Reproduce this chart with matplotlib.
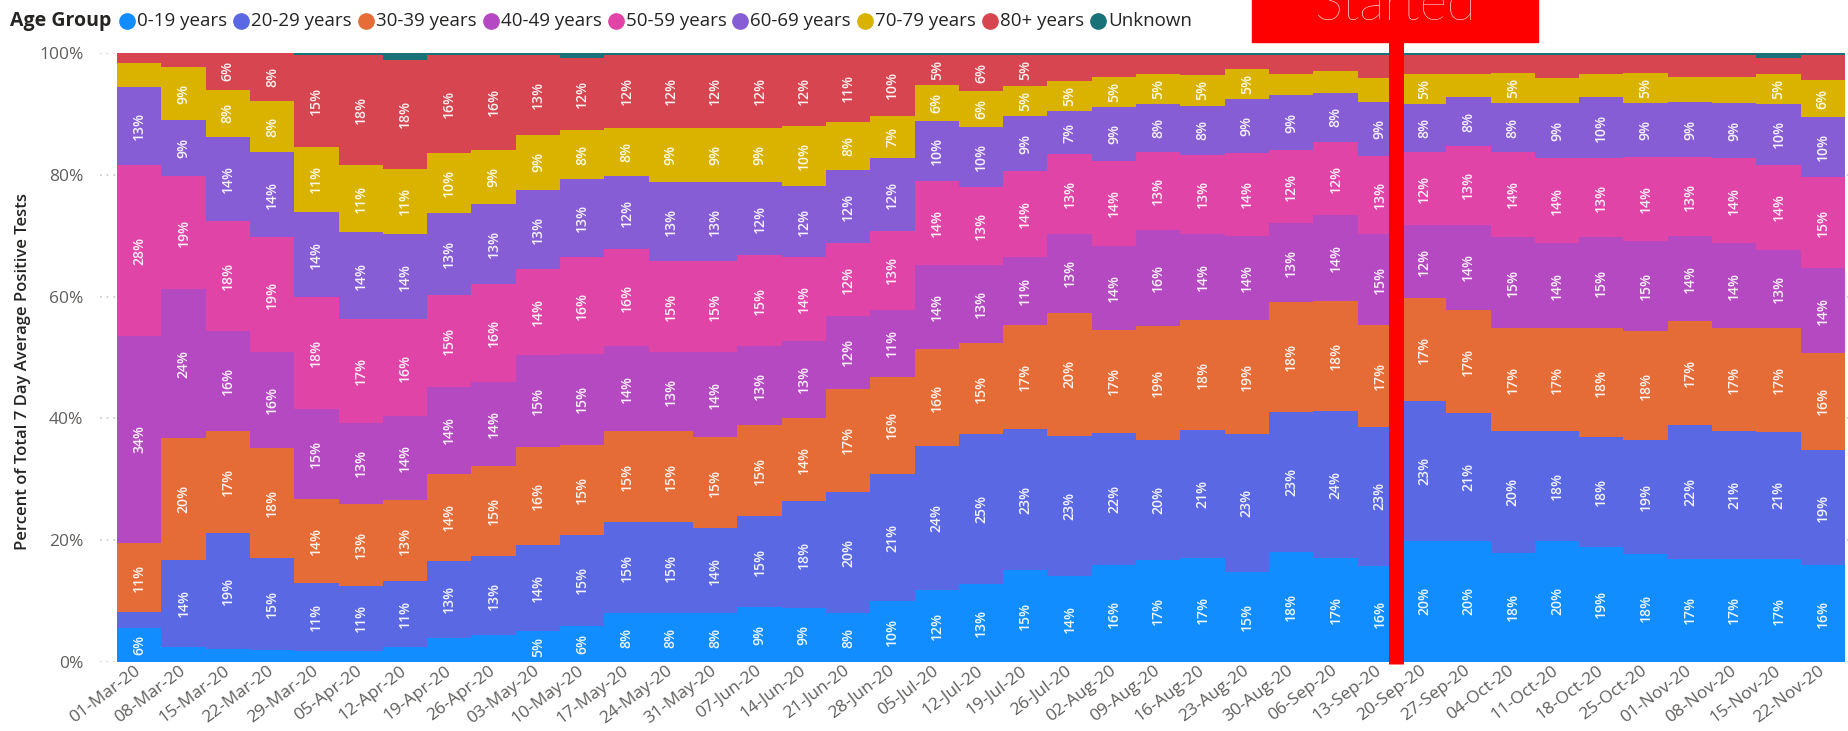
import matplotlib
matplotlib.use('Agg')
import matplotlib.pyplot as plt
from matplotlib.lines import Line2D
from matplotlib.patches import Rectangle
import numpy as np

plt.rcParams['font.family'] = ['Open Sans', 'DejaVu Sans']

weeks = ['01-Mar-20', '08-Mar-20', '15-Mar-20', '22-Mar-20', '29-Mar-20', '05-Apr-20',
         '12-Apr-20', '19-Apr-20', '26-Apr-20', '03-May-20', '10-May-20', '17-May-20',
         '24-May-20', '31-May-20', '07-Jun-20', '14-Jun-20', '21-Jun-20', '28-Jun-20',
         '05-Jul-20', '12-Jul-20', '19-Jul-20', '26-Jul-20', '02-Aug-20', '09-Aug-20',
         '16-Aug-20', '23-Aug-20', '30-Aug-20', '06-Sep-20', '13-Sep-20', '20-Sep-20',
         '27-Sep-20', '04-Oct-20', '11-Oct-20', '18-Oct-20', '25-Oct-20', '01-Nov-20',
         '08-Nov-20', '15-Nov-20', '22-Nov-20']

groups = ['0-19 years', '20-29 years', '30-39 years', '40-49 years', '50-59 years',
          '60-69 years', '70-79 years', '80+ years', 'Unknown']

age_0_19 = [5.6, 2.5, 2.2, 2.0, 1.8, 1.8, 2.5, 3.9, 4.4, 5, 6, 8, 8, 8, 9, 9, 8, 10, 12, 13,
            15, 14, 16, 17, 17, 15, 18, 17, 16, 20, 20, 18, 20, 19, 18, 17, 17, 17, 16]
age_20_29 = [2.6, 14.3, 19, 15.1, 11.2, 10.7, 10.8, 12.7, 13.1, 14, 15, 15, 15, 14, 15, 18, 20, 21, 24, 25,
             23, 23, 22, 20, 21, 23, 23, 24, 23, 23, 21, 20, 18, 18, 19, 22, 21, 21, 19]
age_30_39 = [11.3, 20, 16.8, 18, 13.8, 13.4, 13.3, 14.2, 14.8, 16, 15, 15, 15, 15, 15, 14, 17, 16, 16, 15,
             17, 20, 17, 19, 18, 19, 18, 18, 17, 17, 17, 17, 17, 18, 18, 17, 17, 17, 16]
age_40_49 = [34, 24.4, 16.4, 15.8, 14.7, 13.2, 13.8, 14.3, 13.9, 15, 15, 14, 13, 14, 13, 13, 12, 11, 14, 13,
             11, 13, 14, 16, 14, 14, 13, 14, 15, 12, 14, 15, 14, 15, 15, 14, 14, 13, 14]
age_50_59 = [28, 18.6, 18, 18.9, 18.4, 17, 15.9, 15, 16.2, 14, 16, 16, 15, 15, 15, 14, 12, 13, 14, 13,
             14, 13, 14, 13, 13, 14, 12, 12, 13, 12, 13, 14, 14, 13, 14, 13, 14, 14, 15]
age_60_69 = [12.8, 9.2, 13.8, 13.9, 14, 14.2, 14, 13.4, 13.2, 13, 13, 12, 13, 13, 12, 12, 12, 12, 10, 10,
             9, 7, 9, 8, 8, 9, 9, 8, 9, 8, 8, 8, 9, 10, 9, 9, 9, 10, 10]
age_70_79 = [4.0, 8.7, 7.8, 8.4, 10.7, 11, 10.7, 9.9, 9, 9, 8, 8, 9, 9, 9, 10, 8, 7, 6, 6,
             5, 5, 5, 5, 5, 5, 3.5, 3.5, 3.9, 5, 3.9, 5, 4.2, 3.8, 5, 4.2, 4.3, 5, 6]
age_80_plus = [1.6, 2.3, 6, 7.9, 15, 18, 17.9, 16, 15.7, 13, 12, 12, 12, 12, 12, 12, 11, 10, 5, 6,
               5, 4.2, 3.6, 3.2, 3.3, 2.3, 3.1, 2.7, 3.9, 3.1, 3.1, 3.0, 3.8, 3.2, 3.0, 3.6, 3.7, 2.5, 4.2]
unknown = [0, 0, 0, 0, 0.4, 0.3, 1.1, 0.3, 0.3, 0.3, 0.8, 0.3, 0.3, 0.3, 0.3, 0.3, 0.3, 0.3, 0.3, 0.3,
           0.3, 0.3, 0.3, 0.3, 0.3, 0.3, 0.3, 0.3, 0.3, 0.3, 0.3, 0.3, 0.3, 0.3, 0.3, 0.3, 0.3, 0.9, 0.3]

started_after = '13-Sep-20'

colors = ['#118DFF', '#5A68E3', '#E66C37', '#B449C1', '#E044A7',
          '#875DD6', '#D9B300', '#D64550', '#197278']

raw = np.array([age_0_19, age_20_29, age_30_39, age_40_49, age_50_59,
                age_60_69, age_70_79, age_80_plus, unknown], dtype=float)
share = raw / raw.sum(axis=0) * 100
cum = np.vstack([np.zeros(len(weeks)), np.cumsum(share, axis=0)])

W, H = 1849, 731
fig = plt.figure(figsize=(W / 100, H / 100), dpi=100)


def fx(px):
    return px / W


def fy(py):
    return 1 - py / H


ax = fig.add_axes([fx(100), fy(662), fx(1848) - fx(100), (662 - 53) / H])
n = len(weeks)
edges = np.arange(n + 1) - 0.5
for k in range(len(groups)):
    ax.stairs(cum[k + 1], edges, baseline=cum[k], fill=True, color=colors[k],
              lw=0, zorder=2)
    for i in range(n):
        v = raw[k, i]
        if v >= 4.5:
            ax.text(i, cum[k, i] + share[k, i] / 2, f'{round(v)}%', rotation=90,
                    ha='center', va='center', fontsize=10, fontweight='semibold',
                    color='white', alpha=0.92, zorder=4)

ax.set_xlim(-0.5 - 17 / 44.31, n - 0.5 + 3 / 44.31)
ax.set_ylim(0, 100)
ax.set_yticks([0, 20, 40, 60, 80, 100])
ax.set_yticklabels([f'{t}%' for t in [0, 20, 40, 60, 80, 100]])
ax.set_xticks(np.arange(n))
ax.set_xticklabels(weeks)
ax.tick_params(axis='both', length=0, colors='#605E5C')
ax.tick_params(axis='y', labelsize=12.5, pad=12)
ax.tick_params(axis='x', labelsize=12.5, pad=5)
plt.setp(ax.get_xticklabels(), rotation=37, ha='right', va='center',
         rotation_mode='anchor')
ax.yaxis.grid(True, color='#C8C6C4', linestyle=(0, (1, 3)), lw=1.2)
ax.set_axisbelow(True)
for s in ax.spines.values():
    s.set_visible(False)

fig.text(fx(23), fy(372), 'Percent of Total 7 Day Average Positive Tests', rotation=90,
         ha='center', va='center', fontsize=12, fontweight='semibold', color='#252423')

# "Started" marker
xs = weeks.index(started_after) + 0.37
ax.plot([xs, xs], [-0.35, 125], color='#FF0000', lw=10.8, solid_capstyle='butt',
        clip_on=False, zorder=6)
fig.add_artist(Rectangle((fx(1252), fy(42)), fx(1538) - fx(1252), 0.08,
                         transform=fig.transFigure, color='#FF0000', zorder=7))
fig.text(fx(1395), fy(20), 'Started', ha='center', va='baseline', fontsize=38,
         fontweight='light', color='white', zorder=8, family=['Lato', 'Open Sans'])

# legend
renderer = fig.canvas.get_renderer()
ly = fy(21)
t = fig.text(fx(10), ly, 'Age Group', fontsize=14, fontweight='bold', color='#252423',
             ha='left', va='center')
x = t.get_window_extent(renderer).x1 + 16
for g, c in zip(groups, colors):
    fig.add_artist(Line2D([fx(x)], [ly], marker='o', markersize=11, color=c,
                          lw=0, transform=fig.transFigure))
    t = fig.text(fx(x + 10), ly, g, fontsize=13.5, color='#252423', ha='left', va='center')
    x = t.get_window_extent(renderer).x1 + 14

fig.savefig('out.png', dpi=100)
print('OK')
